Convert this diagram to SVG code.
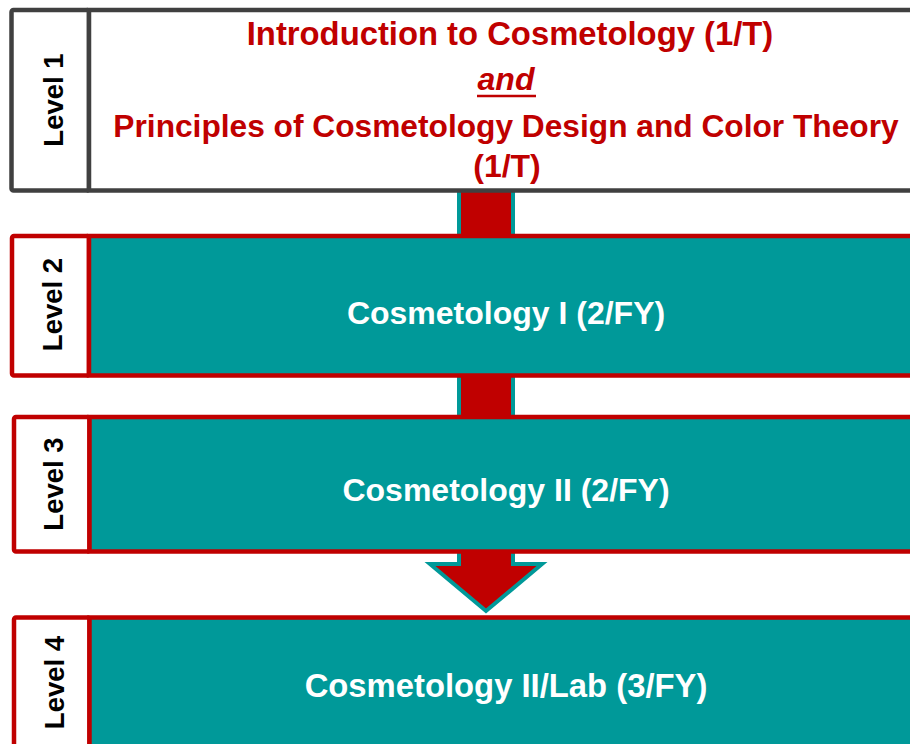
<svg xmlns="http://www.w3.org/2000/svg" width="910" height="744" viewBox="0 0 910 744">
<style>
.lbl{fill:#ffffff;stroke-width:4.5;stroke-linejoin:round}
.gray{stroke:#404040}
.red{stroke:#C00000}
.teal{fill:#009999;stroke:#C00000;stroke-width:4.5}
.lvl{font-family:"Liberation Sans",Arial,sans-serif;font-weight:bold;font-size:27.5px;fill:#000000;text-anchor:middle}
.ttl{font-family:"Liberation Sans",Arial,sans-serif;font-weight:bold;font-size:32px;text-anchor:middle}
.arrow{fill:#C00000;stroke:#009999;stroke-width:4;stroke-linejoin:miter}
</style>
<rect width="910" height="744" fill="#ffffff"/>
<g id="connectors">
<path class="arrow" d="M459,185 L459,245 L513,245 L513,185 Z"/>
<path class="arrow" d="M459,370 L459,425 L513,425 L513,370 Z"/>
<path class="arrow" d="M459,545 L459,564 L430,564 L486,611 L542,564 L513,564 L513,545"/>
</g>
<g id="level1">
<rect class="lbl gray" x="11.5" y="10" width="77.5" height="180.5" rx="2"/>
<rect x="89" y="10" width="830" height="180.5" fill="#ffffff" stroke="#404040" stroke-width="4.5"/>
<text class="lvl" transform="translate(63,100) rotate(-90)" x="0" y="0">Level 1</text>
<text class="ttl" x="510" y="45" fill="#C00000" style="font-size:32.8px">Introduction to Cosmetology (1/T)</text>
<text class="ttl" x="506" y="90" fill="#C00000" font-style="italic">and</text>
<line x1="477" y1="96" x2="536" y2="96" stroke="#C00000" stroke-width="2.5"/>
<text class="ttl" x="506" y="136.5" fill="#C00000" style="font-size:31.7px">Principles of Cosmetology Design and Color Theory</text>
<text class="ttl" x="507" y="177" fill="#C00000">(1/T)</text>
</g>
<g id="level2">
<rect class="lbl red" x="12" y="236" width="77" height="139.5" rx="2"/>
<rect class="teal" x="89" y="236" width="830" height="139.5"/>
<text class="lvl" transform="translate(62,304.5) rotate(-90)" x="0" y="0">Level 2</text>
<text class="ttl" x="506" y="324" fill="#ffffff">Cosmetology I (2/FY)</text>
</g>
<g id="level3">
<rect class="lbl red" x="14" y="417" width="75.5" height="134.5" rx="2"/>
<rect class="teal" x="89.5" y="417" width="830" height="134.5"/>
<text class="lvl" transform="translate(63,484) rotate(-90)" x="0" y="0">Level 3</text>
<text class="ttl" x="506" y="501" fill="#ffffff">Cosmetology II (2/FY)</text>
</g>
<g id="level4">
<rect class="lbl red" x="14" y="617.5" width="75.5" height="140" rx="2"/>
<rect class="teal" x="89.5" y="617.5" width="830" height="140"/>
<text class="lvl" transform="translate(64,682.5) rotate(-90)" x="0" y="0">Level 4</text>
<text class="ttl" x="506" y="697" fill="#ffffff" style="font-size:32.8px">Cosmetology II/Lab (3/FY)</text>
</g>
</svg>
